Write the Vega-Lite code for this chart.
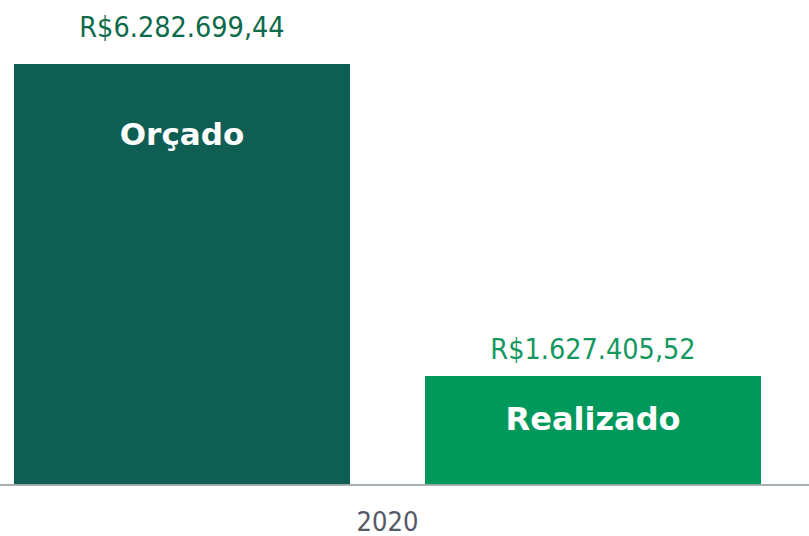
{
  "$schema": "https://vega.github.io/schema/vega-lite/v6.json",
  "width": 809,
  "height": 485,
  "autosize": {"type": "none"},
  "padding": {"left": 0, "top": 0, "right": 0, "bottom": 51},
  "background": "white",
  "config": {"view": {"stroke": null}},
  "data": {"values": [
    {"ano": "2020", "serie": "Orçado", "valor": 6282699.44, "rotulo": "R$6.282.699,44"},
    {"ano": "2020", "serie": "Realizado", "valor": 1627405.52, "rotulo": "R$1.627.405,52"}
  ]},
  "layer": [
    {
      "mark": {"type": "bar"},
      "encoding": {
        "x": {"field": "ano", "type": "nominal", "scale": {"range": [0, 775], "paddingInner": 0, "paddingOuter": 0},
              "axis": {"title": null, "domain": false, "ticks": false, "labelAngle": 0, "labelFontSize": 27, "labelFont": "DejaVu Sans Condensed", "labelColor": "#555866", "labelPadding": 24}},
        "xOffset": {"field": "serie", "type": "nominal", "scale": {"paddingInner": 0.1825, "paddingOuter": 0.034}},
        "y": {"field": "valor", "type": "quantitative", "scale": {"domain": [0, 7237700], "nice": false}, "axis": null},
        "color": {"field": "serie", "type": "nominal", "scale": {"domain": ["Orçado", "Realizado"], "range": ["#0f5e54", "#00995b"]}, "legend": null}
      }
    },
    {
      "mark": {"type": "rule", "color": "#a3abad", "strokeWidth": 1.5},
      "encoding": {"y": {"datum": 0, "type": "quantitative"}}
    },
    {
      "transform": [{"filter": "datum.serie === 'Orçado'"}],
      "mark": {"type": "text", "baseline": "alphabetic", "dy": -27, "fontSize": 28.5, "font": "DejaVu Sans Condensed", "color": "#0d6a4a"},
      "encoding": {
        "x": {"field": "ano", "type": "nominal"},
        "xOffset": {"field": "serie", "type": "nominal"},
        "y": {"field": "valor", "type": "quantitative"},
        "text": {"field": "rotulo"}
      }
    },
    {
      "transform": [{"filter": "datum.serie === 'Realizado'"}],
      "mark": {"type": "text", "baseline": "alphabetic", "dy": -17, "fontSize": 28.5, "font": "DejaVu Sans Condensed", "color": "#15985f"},
      "encoding": {
        "x": {"field": "ano", "type": "nominal"},
        "xOffset": {"field": "serie", "type": "nominal"},
        "y": {"field": "valor", "type": "quantitative"},
        "text": {"field": "rotulo"}
      }
    },
    {
      "transform": [{"filter": "datum.serie === 'Orçado'"}],
      "mark": {"type": "text", "baseline": "alphabetic", "dy": 81, "fontSize": 31, "fontWeight": "bold", "font": "DejaVu Sans", "color": "white"},
      "encoding": {
        "x": {"field": "ano", "type": "nominal"},
        "xOffset": {"field": "serie", "type": "nominal"},
        "y": {"field": "valor", "type": "quantitative"},
        "text": {"field": "serie"}
      }
    },
    {
      "transform": [{"filter": "datum.serie === 'Realizado'"}],
      "mark": {"type": "text", "baseline": "alphabetic", "dy": 54, "fontSize": 32, "fontWeight": "bold", "font": "DejaVu Sans", "color": "white"},
      "encoding": {
        "x": {"field": "ano", "type": "nominal"},
        "xOffset": {"field": "serie", "type": "nominal"},
        "y": {"field": "valor", "type": "quantitative"},
        "text": {"field": "serie"}
      }
    }
  ]
}
